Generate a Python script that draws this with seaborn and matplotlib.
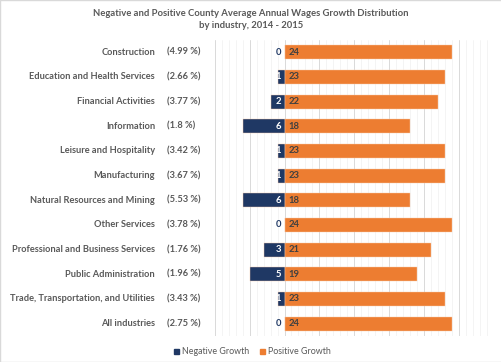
import numpy as np
import pandas as pd
import matplotlib
matplotlib.use("Agg")
import matplotlib.pyplot as plt
import matplotlib.transforms as mtransforms
from matplotlib.ticker import MultipleLocator
import seaborn as sns

# data
industries = ["Construction", "Education and Health Services", "Financial Activities",
              "Information", "Leisure and Hospitality", "Manufacturing",
              "Natural Resources and Mining", "Other Services",
              "Professional and Business Services", "Public Administration",
              "Trade, Transportation, and Utilities", "All industries"]
avg_growth = ["4.99", "2.66", "3.77", "1.8", "3.42", "3.67",
              "5.53", "3.78", "1.76", "1.96", "3.43", "2.75"]
negative = [0, 1, 2, 6, 1, 1, 6, 0, 3, 5, 1, 0]
positive = [24, 23, 22, 18, 23, 23, 18, 24, 21, 19, 23, 24]

navy = "#1F3864"
orange = "#ED7D31"
grey_text = "#595959"

sns.set_theme(style="white")
plt.rcParams["font.family"] = ["Lato", "DejaVu Sans"]

df = pd.DataFrame({
    "industry": industries * 2,
    "kind": ["Negative Growth"] * len(industries) + ["Positive Growth"] * len(industries),
    "value": [-v for v in negative] + positive,
})

fig = plt.figure(figsize=(5.02, 3.62), dpi=100)
ax = fig.add_axes([0.428, 0.072, 0.555, 0.8175])

sns.barplot(data=df, x="value", y="industry", hue="kind", dodge=False,
            palette={"Negative Growth": navy, "Positive Growth": orange},
            width=0.57, edgecolor="#F8CBAD", linewidth=0.3, ax=ax, legend=False,
            saturation=1)

ax.set_xlim(-10, 30)
ax.xaxis.set_major_locator(MultipleLocator(5))
ax.xaxis.set_minor_locator(MultipleLocator(1))
ax.grid(True, axis="x", which="major", color="#D9D9D9", linewidth=0.7)
ax.grid(True, axis="x", which="minor", color="#F0F0F0", linewidth=0.5)
ax.set_axisbelow(True)
ax.tick_params(axis="both", which="both", length=0, labelbottom=False, labelleft=False)
ax.set_xlabel("")
ax.set_ylabel("")
for s in ax.spines.values():
    s.set_visible(False)

# bar labels
for i, (n, p) in enumerate(zip(negative, positive)):
    if n == 0:
        ax.text(-0.5, i, "0", ha="right", va="center", fontsize=6.8, fontweight="bold", color=navy)
    else:
        ax.text(-0.45, i, str(n), ha="right", va="center", fontsize=6.8, fontweight="bold", color="white")
    ax.text(0.6, i, str(p), ha="left", va="center", fontsize=6.8, fontweight="bold", color="#404040")

# category labels with percentages
trans = mtransforms.blended_transform_factory(fig.transFigure, ax.transData)
for i, (name, pct) in enumerate(zip(industries, avg_growth)):
    ax.text(0.309, i, name, transform=trans, ha="right", va="center",
            fontsize=6.7, fontweight="bold", color=grey_text)
    ax.text(0.333, i, f"({pct} %)", transform=trans, ha="left", va="center",
            fontsize=6.7, fontweight="bold", color=grey_text)

fig.text(0.5, 0.963, "Negative and Positive County Average Annual Wages Growth Distribution",
         ha="center", va="center", fontsize=6.8, fontweight="bold", color=grey_text)
fig.text(0.5, 0.929, "by industry, 2014 - 2015",
         ha="center", va="center", fontsize=6.8, fontweight="bold", color=grey_text)

handles = [plt.Rectangle((0, 0), 1, 1, color=navy), plt.Rectangle((0, 0), 1, 1, color=orange)]
fig.legend(handles, ["Negative Growth", "Positive Growth"], loc="center",
           bbox_to_anchor=(0.503, 0.028), ncol=2, frameon=False, fontsize=6.4,
           handlelength=0.55, handleheight=0.55, handletextpad=0.3, columnspacing=1.3,
           labelcolor=grey_text)

fig.patches.append(plt.Rectangle((0, 0), 1, 1, transform=fig.transFigure, fill=False,
                                 edgecolor="#D9D9D9", linewidth=1))

fig.savefig("out.png", dpi=100)
